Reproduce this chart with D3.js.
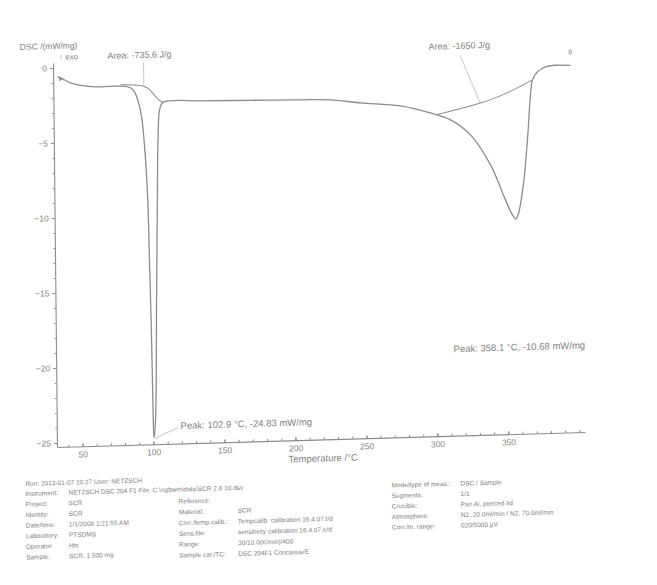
<!DOCTYPE html>
<meta charset="utf-8">
<script src="https://d3js.org/d3.v7.min.js"></script>
<style>
  body { margin: 0; background: #fff; }
  text { font-family: "Liberation Sans", Arial, sans-serif; fill: #808080; }
</style>
<div id="dsc"></div>
<script>

// measured curve, temperature in C and DSC in mW/mg
var temps = [35.1, 38.6, 44.2, 51.3, 61.8, 72.3, 82.9, 86.4, 89.2, 92.0, 94.0, 95.8, 97.6, 98.5, 99.4, 99.9, 100.4,
             101.6, 103.2, 104.5, 105.4, 106.7, 108.8, 114.5, 135.6, 170.9, 206.0, 227.2, 248.3, 276.4, 297.5,
             311.6, 325.5, 339.4, 349.7, 354.5, 356.8, 358.7, 362.5, 365.6, 368.1, 369.6, 373.2, 378.9, 385.9, 396.4];
var dsc = [-0.60, -0.74, -1.03, -1.21, -1.34, -1.33, -1.36, -1.47, -1.75, -2.49, -3.43, -5.30, -8.60, -13.0, -18.3, -22.8, -24.83,
           -23.65, -15.65, -9.0, -5.0, -3.0, -2.53, -2.41, -2.47, -2.53, -2.59, -2.65, -2.91, -3.18, -3.71,
           -4.21, -5.25, -7.29, -9.65, -10.66, -10.95, -10.60, -8.60, -5.70, -2.69, -1.70, -1.17, -0.86, -0.77, -0.81];

// integration baselines
var base1T = [79.4, 95.6, 100.5, 105.4, 109.6];
var base1V = [-1.25, -1.29, -1.64, -2.32, -2.53];
var base2T = [301.1, 330.5, 349.2, 363.3, 369.6];
var base2V = [-3.85, -3.26, -2.65, -2.01, -1.70];

var xTicks = [50, 100, 150, 200, 250, 300, 350];
var yTicks = [0, -5, -10, -15, -20, -25];

var infoLeft = [
  ["Instrument:", "NETZSCH DSC 204 F1      File:     C:\\ngbwin\\data\\SCR 2.6 10.dsv"],
  ["Project:", "SCR"],
  ["Identity:", "SCR"],
  ["Date/time:", "1/1/2008 1:21:55 AM"],
  ["Laboratory:", "PTSDMS"],
  ["Operator:", "Hts"],
  ["Sample:", "SCR, 1.500 mg"]
];
var infoMid = [
  ["Reference:", ""],
  ["Material:", "SCR"],
  ["Corr./temp.calib.:", "Tempcalib. calibration 16.4.07.t/d"],
  ["Sens.file:", "sensitivity calibration 16.4.07.e/d"],
  ["Range:", "30/10.0(K/min)/400"],
  ["Sample car./TC:", "DSC 204F1 Concavus/E"]
];
var infoRight = [
  ["Mode/type of meas.:", "DSC / Sample"],
  ["Segments:", "1/1"],
  ["Crucible:", "Pan Al, pierced lid"],
  ["Atmosphere:", "N2, 20.0ml/min / N2, 70.0ml/min"],
  ["Corr./m. range:", "020/5000 \u00b5V"]
];

var svg = d3.select("#dsc").append("svg")
  .attr("width", 657)
  .attr("height", 585);

// the scan is slightly skewed, so the whole sheet is too
var page = svg.append("g")
  .attr("transform", "matrix(1,-0.0284,0.0104,1,-4.65,1.62)");

var x = d3.scaleLinear().domain([32, 404]).range([57, 585]);
var y = d3.scaleLinear().domain([0.33, -25.27]).range([63, 447]);

var ink = "#8c8c8c";

// axes
page.append("g")
  .attr("transform", "translate(0," + y(-25.27) + ")")
  .call(d3.axisBottom(x).tickValues(xTicks).tickSize(-3).tickSizeOuter(0).tickPadding(5));
page.append("g")
  .attr("transform", "translate(0," + y(-25.27) + ")")
  .call(d3.axisBottom(x).tickValues(d3.range(40, 401, 10)).tickSize(-2).tickSizeOuter(0).tickFormat(""))
  .select(".domain").remove();

page.append("g")
  .attr("transform", "translate(" + x(32) + ",0)")
  .call(d3.axisLeft(y).tickValues(yTicks).tickSize(3).tickSizeOuter(0).tickPadding(3));
page.append("g")
  .attr("transform", "translate(" + x(32) + ",0)")
  .call(d3.axisLeft(y).tickValues(d3.range(0, -26, -1)).tickSize(1.5).tickSizeOuter(0).tickFormat(""))
  .select(".domain").remove();

page.selectAll(".domain, .tick line").attr("stroke", ink).attr("stroke-width", 1.1);
page.selectAll(".tick text").style("font-size", "8.5px").style("fill", "#858585");

// axis titles
page.append("text").attr("x", x(32) - 33).attr("y", y(0) - 19)
  .style("font-size", "8.5px").text("DSC /(mW/mg)");
page.append("text").attr("x", x(32) + 6).attr("y", y(0) - 8)
  .style("font-size", "8px").text("\u2191 exo");
page.append("text").attr("x", x(195)).attr("y", y(-25.27) + 22)
  .style("font-size", "9.5px").text("Temperature /\u00b0C");

var pts = temps.map(function(t, i) { return [x(t), y(dsc[i])]; });

// baselines
page.append("path")
  .attr("d", d3.line().curve(d3.curveBasis)(base1T.map(function(t, i) { return [x(t), y(base1V[i])]; })))
  .attr("fill", "none").attr("stroke", ink).attr("stroke-width", 1);
page.append("path")
  .attr("d", d3.line().curve(d3.curveBasis)(base2T.map(function(t, i) { return [x(t), y(base2V[i])]; })))
  .attr("fill", "none").attr("stroke", ink).attr("stroke-width", 1);

// main curve
page.append("path")
  .attr("d", d3.line().curve(d3.curveCatmullRom.alpha(0.5))(pts))
  .attr("fill", "none")
  .attr("stroke", ink)
  .attr("stroke-width", 1.3);

// start and end markers
page.append("path")
  .attr("d", d3.symbol().type(d3.symbolTriangle).size(10)())
  .attr("transform", "translate(" + (x(temps[0]) + 3) + "," + (y(dsc[0]) + 2) + ") rotate(90)")
  .attr("fill", ink);
page.append("text")
  .attr("x", x(temps[temps.length - 1])).attr("y", y(dsc[dsc.length - 1]) - 11)
  .attr("text-anchor", "middle").style("font-size", "7px").text("8");

// annotations
var thin = "#a0a0a0";
page.append("text").attr("x", x(70.4)).attr("y", y(0.5)).style("font-size", "9px").text("Area: -735.6 J/g");
page.append("line").attr("x1", x(95.8)).attr("y1", y(0.2)).attr("x2", x(95.8)).attr("y2", y(-1.29))
  .attr("stroke", thin).attr("stroke-width", 0.6);

page.append("text").attr("x", x(296.5)).attr("y", y(0.5)).style("font-size", "9px").text("Area: -1650 J/g");
page.append("line").attr("x1", x(318.9)).attr("y1", y(0.05)).attr("x2", x(332.8)).attr("y2", y(-3.2))
  .attr("stroke", thin).attr("stroke-width", 0.6);

page.append("text").attr("x", x(119.2)).attr("y", y(-24.3)).style("font-size", "9.5px")
  .text("Peak: 102.9 \u00b0C, -24.83 mW/mg");
page.append("line").attr("x1", x(117.5)).attr("y1", y(-24.2)).attr("x2", x(100.8)).attr("y2", y(-24.9))
  .attr("stroke", thin).attr("stroke-width", 0.6);

page.append("text").attr("x", x(312)).attr("y", y(-19.7)).style("font-size", "9.5px")
  .text("Peak: 358.1 \u00b0C, -10.68 mW/mg");

// information block below the plot
var info = page.append("g").style("font-size", "6.5px");
info.append("text").attr("x", 25).attr("y", 485).text("Run:  2013-01-07 10:27     User: NETZSCH");

function block(rows, x0, x1, y0, step) {
  rows.forEach(function(r, i) {
    info.append("text").attr("x", x0).attr("y", y0 + i * step).text(r[0]);
    info.append("text").attr("x", x1).attr("y", y0 + i * step).text(r[1]);
  });
}
block(infoLeft, 25, 68, 495, 10.6);
block(infoMid, 178, 237, 507, 10.8);
block(infoRight, 391, 460, 497, 10.5);

</script>
